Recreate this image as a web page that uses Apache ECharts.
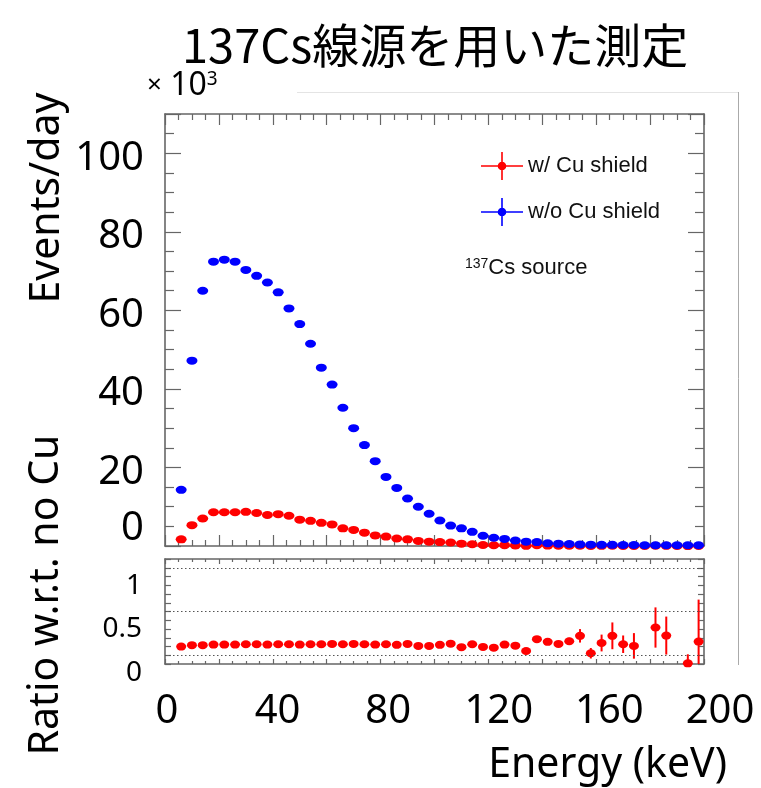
<!DOCTYPE html>
<html>
<head>
<meta charset="utf-8">
<title>137Cs</title>
<script src="https://cdn.jsdelivr.net/npm/echarts@6/dist/echarts.min.js"></script>
<style>
html,body{margin:0;padding:0;background:#fff;}
#main{width:761px;height:788px;}
</style>
</head>
<body>
<div id="main"></div>
<script>
// bin centres (keV), 4 keV bins
var energy = [6,10,14,18,22,26,30,34,38,42,46,50,54,58,62,66,70,74,78,82,86,90,94,98,102,106,110,114,118,122,126,130,134,138,142,146,150,154,158,162,166,170,174,178,182,186,190,194,198];
// events/day (x10^3)
var withCu = [1.7,5.3,7.0,8.6,8.6,8.6,8.7,8.4,7.9,8.1,7.7,6.7,6.4,5.9,5.5,4.5,4.1,3.4,2.7,2.4,1.9,1.7,1.3,1.1,1.0,0.9,0.6,0.45,0.25,0.18,0.22,0.15,0.05,0.18,0.11,0.08,0.08,0.09,0.01,0.04,0.07,0.03,0.03,0,0.06,0.05,0,-0.02,0.03];
var withoutCu = [14.3,47.2,65.0,72.4,72.9,72.4,70.3,68.8,67.1,64.6,60.5,56.5,51.5,45.4,41.1,35.2,30.0,25.7,21.6,17.6,14.8,12.1,10.0,8.2,6.5,5.2,4.5,3.6,2.6,2.1,1.8,1.4,1.1,1.0,0.7,0.6,0.5,0.4,0.35,0.3,0.3,0.25,0.25,0.2,0.2,0.2,0.2,0.2,0.2];
// ratio w/ Cu / w/o Cu
var ratio = [0.099,0.115,0.115,0.122,0.122,0.122,0.126,0.126,0.122,0.126,0.126,0.122,0.126,0.126,0.130,0.126,0.130,0.126,0.122,0.126,0.119,0.130,0.107,0.107,0.119,0.132,0.092,0.126,0.095,0.087,0.122,0.110,0.049,0.184,0.153,0.130,0.160,0.222,0.023,0.140,0.222,0.126,0.107,null,0.317,0.225,null,-0.092,0.156];
var ratioErr = [0.004,0.004,0.004,0.004,0.004,0.004,0.004,0.004,0.004,0.004,0.004,0.004,0.004,0.004,0.004,0.004,0.004,0.004,0.004,0.004,0.004,0.004,0.004,0.004,0.004,0.004,0.012,0.014,0.016,0.018,0.02,0.022,0.025,0.03,0.03,0.035,0.04,0.077,0.06,0.096,0.153,0.10,0.146,null,0.23,0.217,null,0.103,0.48];

var yLabels = [0,20,40,60,80,100];
var ratioLabels = [0,0.5,1];
var xLabels = [0,40,80,120,160,200];

var red = '#ff0000', blue = '#0000ff', frame = '#666';

var redPts = [], bluePts = [], ratioPts = [], errPts = [];
for (var i = 0; i < energy.length; i++) {
	redPts.push([energy[i], withCu[i]]);
	bluePts.push([energy[i], withoutCu[i]]);
	if (ratio[i] !== null) {
		ratioPts.push([energy[i], ratio[i]]);
		errPts.push([energy[i], ratio[i], ratioErr[i]]);
	}
}

function has(arr, v) {
	for (var k = 0; k < arr.length; k++) {
		if (Math.abs(arr[k] - v) < 1e-6) return true;
	}
	return false;
}

// frame axis helper
function xAx(grid, pos, major, minor) {
	return {
		type: 'value', gridIndex: grid, position: pos, min: 0, max: 200, interval: 20,
		axisLine: {show: true, onZero: false, lineStyle: {color: frame, width: 1.6}},
		axisTick: {show: true, inside: true, length: major, lineStyle: {color: frame, width: 1.2}},
		minorTick: {show: true, splitNumber: 4, length: minor, lineStyle: {color: frame, width: 1.2}},
		axisLabel: {show: false}, splitLine: {show: false}, minorSplitLine: {show: false}
	};
}

var chart = echarts.init(document.getElementById('main'));
var option = {
	animation: false,
	backgroundColor: '#fff',
	title: {
		text: '137Cs線源を用いた測定',
		left: 177, top: 12,
		textStyle: {fontFamily: '"Noto Sans CJK JP"', fontSize: 47, fontWeight: 'normal', color: '#000', lineHeight: 56}
	},
	legend: {
		data: ['w/ Cu shield', 'w/o Cu shield'],
		orient: 'vertical', left: 476, top: 147,
		itemWidth: 42, itemHeight: 28, itemGap: 18,
		icon: 'path://M0,13.2h42v1.6H0z M20.2,0h1.6v28h-1.6z M25.3,14a4.3,4.3 0 1,1 -8.6,0a4.3,4.3 0 1,1 8.6,0z',
		selectedMode: false,
		textStyle: {fontFamily: '"Liberation Sans"', fontSize: 22, color: '#111'}
	},
	grid: [
		{left: 165, top: 114, width: 539, height: 432, outerBoundsMode: 'none'},
		{left: 165, top: 559, width: 539, height: 105, outerBoundsMode: 'none'},
		{left: 167, top: 689, width: 553, height: 1, outerBoundsMode: 'none'}
	],
	xAxis: [
		xAx(0, 'bottom', 11, 6),
		xAx(0, 'top', 11, 6),
		xAx(1, 'bottom', 5, 3),
		xAx(1, 'top', 5, 3),
		{
			type: 'value', gridIndex: 2, position: 'bottom', min: 0, max: 200, interval: 40,
			axisLine: {show: false}, axisTick: {show: false}, splitLine: {show: false},
			axisLabel: {
				show: true, margin: 2, fontSize: 40, fontFamily: '"Noto Sans"', color: '#000',
				formatter: function (v) { return has(xLabels, v) ? String(v) : ''; }
			}
		}
	],
	yAxis: [
		{
			type: 'value', gridIndex: 0, position: 'left', min: 0, max: 110, interval: 20,
			axisLine: {show: true, onZero: false, lineStyle: {color: frame, width: 1.6}},
			axisTick: {show: true, inside: true, length: 16, lineStyle: {color: frame, width: 1.2}},
			minorTick: {show: true, splitNumber: 4, length: 9, lineStyle: {color: frame, width: 1.2}},
			splitLine: {show: false}, minorSplitLine: {show: false},
			axisLabel: {
				show: true, margin: 21, color: '#000', fontSize: 40, fontFamily: '"Noto Sans"',
				formatter: function (v) {
					if (v === 0) return '{z|0}';
					return has(yLabels, v) ? '{n|' + v + '}' : '';
				},
				rich: {
					n: {fontSize: 40, fontFamily: '"Noto Sans"', color: '#000', padding: [10, 0, 0, 0]},
					z: {fontSize: 40, fontFamily: '"Noto Sans"', color: '#000', padding: [0, 0, 34, 0]}
				}
			}
		},
		{
			type: 'value', gridIndex: 0, position: 'right', min: 0, max: 110, interval: 20,
			axisLine: {show: true, onZero: false, lineStyle: {color: frame, width: 1.6}},
			axisTick: {show: true, inside: true, length: 16, lineStyle: {color: frame, width: 1.2}},
			minorTick: {show: true, splitNumber: 4, length: 9, lineStyle: {color: frame, width: 1.2}},
			splitLine: {show: false}, minorSplitLine: {show: false}, axisLabel: {show: false}
		},
		{
			type: 'value', gridIndex: 1, position: 'left', min: -0.1, max: 1.1, interval: 0.1,
			axisLine: {show: true, onZero: false, lineStyle: {color: frame, width: 1.6}},
			axisTick: {show: true, inside: true, length: 6, lineStyle: {color: frame, width: 1.2}},
			splitLine: {show: false},
			axisLabel: {
				show: true, margin: 23, color: '#000', fontSize: 28, fontFamily: '"Noto Sans"',
				formatter: function (v) { return has(ratioLabels, v) ? '{r|' + (Math.round(v * 10) / 10) + '}' : ''; },
				rich: {r: {fontSize: 28, fontFamily: '"Noto Sans"', color: '#000', padding: [36, 0, 0, 0]}}
			}
		},
		{
			type: 'value', gridIndex: 1, position: 'right', min: -0.1, max: 1.1, interval: 0.1,
			axisLine: {show: true, onZero: false, lineStyle: {color: frame, width: 1.6}},
			axisTick: {show: true, inside: true, length: 6, lineStyle: {color: frame, width: 1.2}},
			splitLine: {show: false}, axisLabel: {show: false}
		},
		{type: 'value', gridIndex: 2, show: false, min: 0, max: 1}
	],
	series: [
		{
			name: 'w/ Cu shield', type: 'scatter', xAxisIndex: 0, yAxisIndex: 0,
			symbol: 'circle', symbolSize: [11, 8], itemStyle: {color: red, opacity: 1},
			data: redPts, z: 3
		},
		{
			name: 'w/o Cu shield', type: 'scatter', xAxisIndex: 0, yAxisIndex: 0,
			symbol: 'circle', symbolSize: [11, 8], itemStyle: {color: blue, opacity: 1},
			data: bluePts, z: 4
		},
		{
			name: 'ratio err', type: 'custom', xAxisIndex: 2, yAxisIndex: 2, clip: true,
			data: errPts, z: 3,
			renderItem: function (params, api) {
				var x = api.value(0), v = api.value(1), e = api.value(2);
				var p1 = api.coord([x, v - e]);
				var p2 = api.coord([x, v + e]);
				return {
					type: 'line',
					shape: {x1: p1[0], y1: p1[1], x2: p2[0], y2: p2[1]},
					style: {stroke: red, lineWidth: 2}
				};
			}
		},
		{
			name: 'ratio', type: 'scatter', xAxisIndex: 2, yAxisIndex: 2,
			symbol: 'circle', symbolSize: [10, 8], itemStyle: {color: red, opacity: 1},
			data: ratioPts, z: 4,
			markLine: {
				silent: true, symbol: 'none', label: {show: false}, animation: false,
				lineStyle: {color: '#555', type: [1.5, 2.5], width: 1},
				data: [{yAxis: 0}, {yAxis: 0.5}, {yAxis: 1}]
			}
		}
	],
	graphic: [
		{type: 'line', shape: {x1: 297, y1: 92.5, x2: 738, y2: 92.5}, style: {stroke: '#e4e4e4', lineWidth: 1}, silent: true},
		{type: 'line', shape: {x1: 738.5, y1: 92, x2: 738.5, y2: 665}, style: {stroke: '#aaa', lineWidth: 1}, silent: true},
		{
			type: 'text', x: 147, y: 86, silent: true,
			style: {
				text: '{a|×}{b| 10}{c|3}', verticalAlign: 'middle',
				rich: {
					a: {fontSize: 26, fontFamily: '"Noto Sans"', fill: '#000'},
					b: {fontSize: 32, fontFamily: '"Noto Sans"', fill: '#000'},
					c: {fontSize: 19, fontFamily: '"Noto Sans"', fill: '#000', verticalAlign: 'top'}
				}
			}
		},
		{
			type: 'text', x: 47, y: 198, rotation: Math.PI / 2, silent: true,
			style: {text: 'Events/day', fontSize: 41, fontFamily: '"Noto Sans"', fill: '#000', align: 'center', verticalAlign: 'middle'}
		},
		{
			type: 'text', x: 46, y: 595, rotation: Math.PI / 2, silent: true,
			style: {text: 'Ratio w.r.t. no Cu', fontSize: 41, fontFamily: '"Noto Sans"', fill: '#000', align: 'center', verticalAlign: 'middle'}
		},
		{
			type: 'text', x: 727, y: 765, silent: true,
			style: {text: 'Energy (keV)', fontSize: 41, fontFamily: '"Noto Sans"', fill: '#000', align: 'right', verticalAlign: 'middle'}
		},
		{
			type: 'text', x: 465, y: 268, silent: true,
			style: {
				text: '{s|137}{t|Cs source}', verticalAlign: 'middle',
				rich: {
					s: {fontSize: 14, fontFamily: '"Liberation Sans"', fill: '#111', verticalAlign: 'top'},
					t: {fontSize: 22, fontFamily: '"Liberation Sans"', fill: '#111'}
				}
			}
		}
	]
};
chart.setOption(option);
</script>
</body>
</html>
